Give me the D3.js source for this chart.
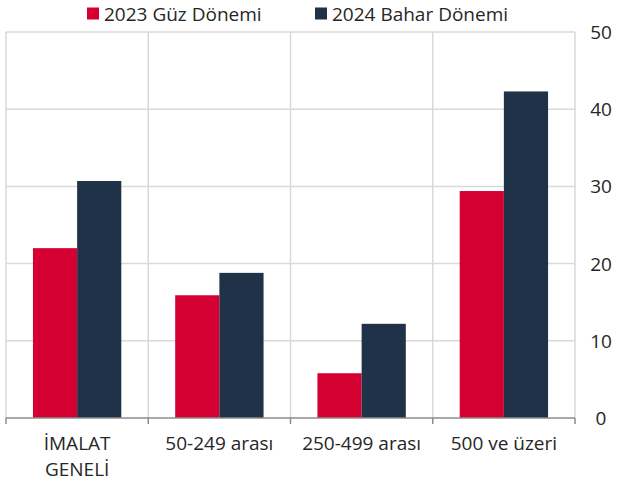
<!DOCTYPE html>
<html>
<head>
<meta charset="utf-8">
<script src="https://cdn.jsdelivr.net/npm/d3@7"></script>
<style>
  body { margin: 0; background: #fff; }
  text { font-family: "Open Sans", "Noto Sans", sans-serif; fill: #262626; }
</style>
</head>
<body>
<div class="chart"></div>
<script>
// kategoriler ve seriler
const categories = [["İMALAT", "GENELİ"], ["50-249 arası"], ["250-499 arası"], ["500 ve üzeri"]];
const seriesNames = ["2023 Güz Dönemi", "2024 Bahar Dönemi"];
const guz2023 = [22.0, 15.9, 5.8, 29.4];
const bahar2024 = [30.7, 18.8, 12.2, 42.3];
const yTicks = [0, 10, 20, 30, 40, 50];
const colors = ["#D50032", "#1F3247"];

const width = 620, height = 486;
const margin = { top: 32, right: 45, bottom: 68, left: 6 };

const svg = d3.select(".chart")
  .append("svg")
  .attr("width", width)
  .attr("height", height);

const x0 = d3.scaleBand()
  .domain(d3.range(categories.length))
  .range([margin.left, width - margin.right])
  .paddingInner(0)
  .paddingOuter(0);

const x1 = d3.scaleBand()
  .domain([0, 1])
  .range([0, x0.bandwidth()])
  .paddingOuter(0.61)
  .paddingInner(0);

const y = d3.scaleLinear()
  .domain([0, 50])
  .range([height - margin.bottom, margin.top]);

// yatay ızgara
svg.append("g")
  .selectAll("line")
  .data(yTicks.slice(1))
  .enter()
  .append("line")
  .attr("x1", margin.left)
  .attr("x2", width - margin.right)
  .attr("y1", d => y(d))
  .attr("y2", d => y(d))
  .attr("stroke", "#d9d9d9")
  .attr("stroke-width", 1.5);

// dikey ızgara
const bounds = d3.range(categories.length + 1).map(i =>
  i < categories.length ? x0(i) : x0(i - 1) + x0.bandwidth());
svg.append("g")
  .selectAll("line")
  .data(bounds)
  .enter()
  .append("line")
  .attr("x1", d => d)
  .attr("x2", d => d)
  .attr("y1", margin.top)
  .attr("y2", y(0))
  .attr("stroke", "#d9d9d9")
  .attr("stroke-width", 1.5);

// barlar
const data = categories.map((c, i) => [guz2023[i], bahar2024[i]]);
const groups = svg.append("g")
  .selectAll("g")
  .data(data)
  .enter()
  .append("g")
  .attr("transform", (d, i) => `translate(${x0(i)},0)`);

groups.selectAll("rect")
  .data(d => d)
  .enter()
  .append("rect")
  .attr("x", (d, j) => x1(j))
  .attr("width", x1.bandwidth())
  .attr("y", d => y(d))
  .attr("height", d => y(0) - y(d))
  .attr("fill", (d, j) => colors[j]);

// x ekseni
svg.append("line")
  .attr("x1", margin.left)
  .attr("x2", width - margin.right)
  .attr("y1", y(0))
  .attr("y2", y(0))
  .attr("stroke", "#8c8c8c")
  .attr("stroke-width", 1.5);

svg.append("g")
  .selectAll("line")
  .data(bounds)
  .enter()
  .append("line")
  .attr("x1", d => d)
  .attr("x2", d => d)
  .attr("y1", y(0))
  .attr("y2", y(0) + 6)
  .attr("stroke", "#8c8c8c")
  .attr("stroke-width", 1.5);

const xl = svg.append("g")
  .selectAll("text")
  .data(categories)
  .enter()
  .append("text")
  .attr("text-anchor", "middle")
  .attr("font-size", 19)
  .attr("x", (d, i) => x0(i) + x0.bandwidth() / 2)
  .attr("y", 450);

xl.selectAll("tspan")
  .data(d => d)
  .enter()
  .append("tspan")
  .attr("x", function() { return this.parentNode.getAttribute("x"); })
  .attr("dy", (d, k) => k === 0 ? 0 : 26)
  .text(d => d);

// sağ y ekseni etiketleri
svg.append("g")
  .selectAll("text")
  .data(yTicks)
  .enter()
  .append("text")
  .attr("x", 601)
  .attr("y", d => y(d) + 7)
  .attr("text-anchor", "middle")
  .attr("font-size", 19)
  .text(d => d);

// lejant
const legendX = [87, 315];
const lg = svg.append("g")
  .selectAll("g")
  .data(seriesNames)
  .enter()
  .append("g")
  .attr("transform", (d, i) => `translate(${legendX[i]},0)`);

lg.append("rect")
  .attr("x", 0)
  .attr("y", 7.5)
  .attr("width", 12)
  .attr("height", 12)
  .attr("fill", (d, i) => colors[i]);

lg.append("text")
  .attr("x", 17)
  .attr("y", 21)
  .attr("font-size", 19)
  .text(d => d);
</script>
</body>
</html>
